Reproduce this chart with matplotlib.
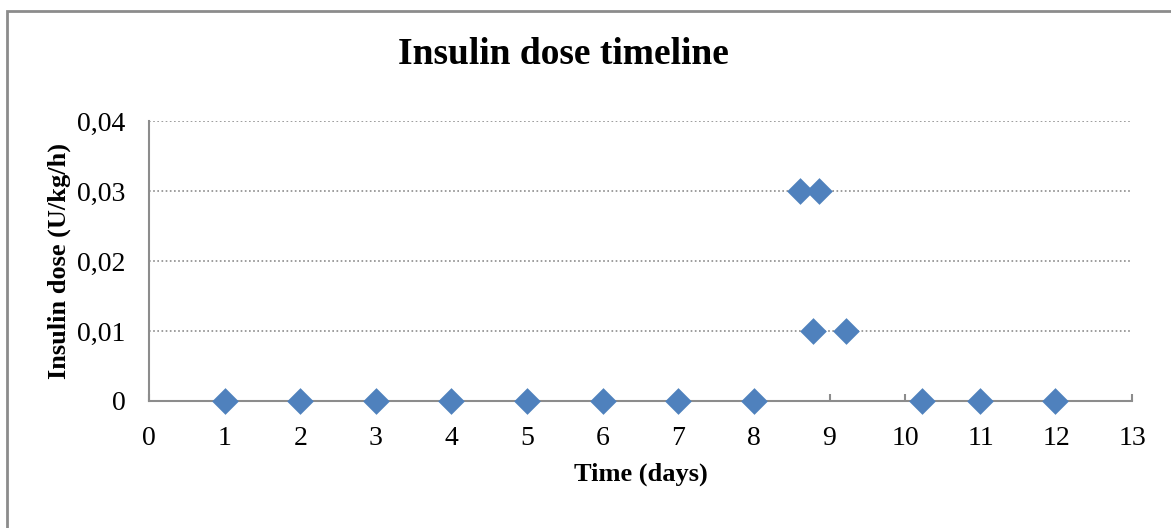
import matplotlib
matplotlib.use("Agg")
import matplotlib.pyplot as plt
from matplotlib.patches import Rectangle
from matplotlib.ticker import FuncFormatter

# Insulin dose per time point (days, U/kg/h)
days = [1, 2, 3, 4, 5, 6, 7, 8, 8.61, 8.86, 8.78, 9.22, 10.22, 10.99, 11.98]
doses = [0, 0, 0, 0, 0, 0, 0, 0, 0.03, 0.03, 0.01, 0.01, 0, 0, 0]
x_ticks = list(range(0, 14))
y_ticks = [0, 0.01, 0.02, 0.03, 0.04]

plt.rcParams['font.family'] = ['Liberation Serif', 'DejaVu Serif']

W, H = 1171, 528
fig = plt.figure(figsize=(W / 100, H / 100), dpi=100)
fig.patch.set_facecolor('white')

# Chart-area frame (top and left edges visible)
fig.patches.append(Rectangle((6.5 / W, -0.1), 1.2, (H - 10.5) / H + 0.1,
                             transform=fig.transFigure, fill=False,
                             edgecolor='#8c8c8c', linewidth=2.0, zorder=0))

ax = fig.add_axes([149 / W, 1 - 401 / H, (1132 - 149) / W, (401 - 121) / H])
ax.scatter(days, doses, marker='D', s=185, color='#4F81BD', zorder=3,
           clip_on=False, linewidths=0)

ax.set_xlim(0, 13)
ax.set_ylim(0, 0.04)
ax.set_xticks(x_ticks)
ax.set_yticks(y_ticks)
ax.yaxis.set_major_formatter(FuncFormatter(
    lambda v, p: '0' if v == 0 else f'{v:.2f}'.replace('.', ',')))

ax.grid(axis='y', color='#8c8c8c', linestyle=(0, (1, 1.5)), linewidth=1.2)
ax.set_axisbelow(True)
for s in ('top', 'right'):
    ax.spines[s].set_visible(False)
for s in ('left', 'bottom'):
    ax.spines[s].set_color('#8c8c8c')
    ax.spines[s].set_linewidth(1.5)

ax.tick_params(axis='x', direction='in', length=5, width=1.5, color='#8c8c8c',
               labelsize=20, pad=18)
ax.tick_params(axis='y', length=0, labelsize=20, pad=17)

ax.set_xlabel('Time (days)', fontsize=19, fontweight='bold', labelpad=8)
ax.set_ylabel('Insulin dose (U/kg/h)', fontsize=19, fontweight='bold', labelpad=4)

fig.text(563 / W, 1 - 55 / H, 'Insulin dose timeline', ha='center', va='center',
         fontsize=27, fontweight='bold')

fig.savefig('out.png', dpi=100)
